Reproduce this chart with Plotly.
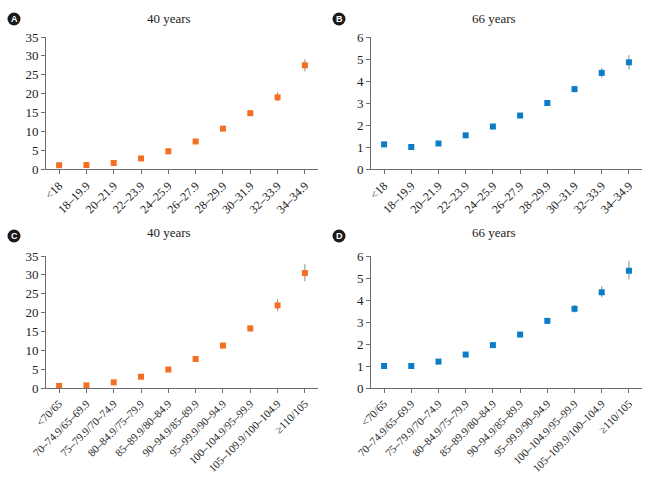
import plotly.graph_objects as go

W, H = 655, 480

bmi_cats = ["<18", "18–19.9", "20–21.9", "22–23.9", "24–25.9", "26–27.9",
            "28–29.9", "30–31.9", "32–33.9", "34–34.9"]
wc_cats = ["<70/65", "70–74.9/65–69.9", "75–79.9/70–74.9", "80–84.9/75–79.9",
           "85–89.9/80–84.9", "90–94.9/85–89.9", "95–99.9/90–94.9",
           "100–104.9/95–99.9", "105–109.9/100–104.9", "≥110/105"]

a_val = [1.0, 1.05, 1.6, 2.8, 4.7, 7.3, 10.7, 14.8, 19.0, 27.5]
a_hi = [1.1, 1.15, 1.75, 2.95, 4.9, 7.6, 11.1, 15.6, 20.3, 29.1]
a_lo = [0.9, 0.95, 1.45, 2.65, 4.5, 7.0, 10.3, 14.1, 18.0, 25.9]

b_val = [1.12, 1.0, 1.16, 1.53, 1.93, 2.43, 3.0, 3.63, 4.37, 4.85]
b_hi = [1.17, 1.04, 1.21, 1.58, 1.99, 2.51, 3.13, 3.78, 4.59, 5.17]
b_lo = [1.07, 0.96, 1.11, 1.48, 1.87, 2.35, 2.89, 3.49, 4.15, 4.52]

c_val = [0.55, 0.7, 1.5, 3.0, 4.9, 7.7, 11.25, 15.8, 21.9, 30.5]
c_hi = [0.65, 0.8, 1.65, 3.2, 5.15, 8.0, 11.7, 16.65, 23.5, 32.8]
c_lo = [0.45, 0.6, 1.35, 2.8, 4.65, 7.4, 10.8, 14.9, 20.4, 28.3]

d_val = [1.0, 1.0, 1.2, 1.52, 1.95, 2.43, 3.05, 3.6, 4.35, 5.33]
d_hi = [1.04, 1.04, 1.25, 1.58, 2.02, 2.52, 3.17, 3.77, 4.62, 5.79]
d_lo = [0.96, 0.96, 1.15, 1.46, 1.88, 2.35, 2.96, 3.43, 4.12, 4.94]

titles = ["40 years", "66 years", "40 years", "66 years"]
letters = ["A", "B", "C", "D"]

ORANGE = "#F36F21"
BLUE = "#0B7DC6"
GRAY = "#8a8a8a"
AXIS = "#6e6e6e"
FONT = "Liberation Serif"

panels = [
    (bmi_cats, a_val, a_hi, a_lo, ORANGE, 35, 5, 12),
    (bmi_cats, b_val, b_hi, b_lo, BLUE, 6, 1, 12),
    (wc_cats, c_val, c_hi, c_lo, ORANGE, 35, 5, 11),
    (wc_cats, d_val, d_hi, d_lo, BLUE, 6, 1, 11),
]

# pixel layout of each plot area: (left, right, top, bottom)
boxes = [(46, 318, 37, 169), (371, 642, 37, 169),
         (46, 318, 256, 388), (371, 642, 256, 388)]
title_pos = [(169, 19), (494, 19), (169, 233), (494, 233)]
letter_pos = [(14, 19), (339, 19), (14, 236), (339, 236)]

fig = go.Figure()
layout = dict(width=W, height=H, margin=dict(l=0, r=0, t=0, b=0, autoexpand=False),
              paper_bgcolor="white", plot_bgcolor="white", showlegend=False,
              font=dict(family=FONT, size=12, color="#222"))
annotations = []
shapes = []

for i, (cats, val, hi, lo, col, ymax, dt, xfs) in enumerate(panels):
    n = i + 1
    xa = "x" if n == 1 else f"x{n}"
    ya = "y" if n == 1 else f"y{n}"
    plus = [h - v for h, v in zip(hi, val)]
    minus = [v - l for v, l in zip(val, lo)]
    fig.add_trace(go.Scatter(
        x=list(range(len(cats))), y=val, mode="markers",
        marker=dict(symbol="square", size=6, color=col),
        error_y=dict(type="data", array=plus, arrayminus=minus,
                     color=GRAY, thickness=1, width=0),
        xaxis=xa, yaxis=ya))
    l, r, t, b = boxes[i]
    xkey = "xaxis" if n == 1 else f"xaxis{n}"
    ykey = "yaxis" if n == 1 else f"yaxis{n}"
    layout[xkey] = dict(domain=[l / W, r / W], anchor=ya, automargin=False,
                        range=[-0.48, len(cats) - 0.52],
                        tickmode="array", tickvals=list(range(len(cats))),
                        ticktext=cats, tickangle=-45,
                        showline=True, linecolor=AXIS, linewidth=1,
                        ticks="outside", ticklen=4, tickcolor=AXIS,
                        showgrid=False, zeroline=False,
                        tickfont=dict(family=FONT, size=xfs, color="#222"))
    layout[ykey] = dict(domain=[1 - b / H, 1 - t / H], anchor=xa, automargin=False,
                        range=[0, ymax], dtick=dt, tick0=0,
                        showline=True, linecolor=AXIS, linewidth=1,
                        ticks="outside", ticklen=4, tickcolor=AXIS,
                        showgrid=False, zeroline=False,
                        tickfont=dict(family=FONT, size=13, color="#222"))
    tx, ty = title_pos[i]
    annotations.append(dict(text=titles[i], x=tx / W, y=1 - ty / H,
                            xref="paper", yref="paper", showarrow=False,
                            xanchor="center", yanchor="middle",
                            font=dict(family=FONT, size=13, color="#222")))
    cx, cy = letter_pos[i]
    rr = 6.5
    shapes.append(dict(type="circle", xref="paper", yref="paper",
                       x0=(cx - rr) / W, x1=(cx + rr) / W,
                       y0=1 - (cy + rr) / H, y1=1 - (cy - rr) / H,
                       fillcolor="#1a1a1a", line=dict(width=0)))
    annotations.append(dict(text="<b>" + letters[i] + "</b>", x=cx / W, y=1 - cy / H,
                            xref="paper", yref="paper", showarrow=False,
                            xanchor="center", yanchor="middle",
                            font=dict(family="Liberation Sans", size=9, color="white")))

layout["annotations"] = annotations
layout["shapes"] = shapes
fig.update_layout(**layout)
fig.write_html("out.html", config={"displayModeBar": False},
               post_script="document.body.style.margin='0';document.body.style.overflow='hidden';")
